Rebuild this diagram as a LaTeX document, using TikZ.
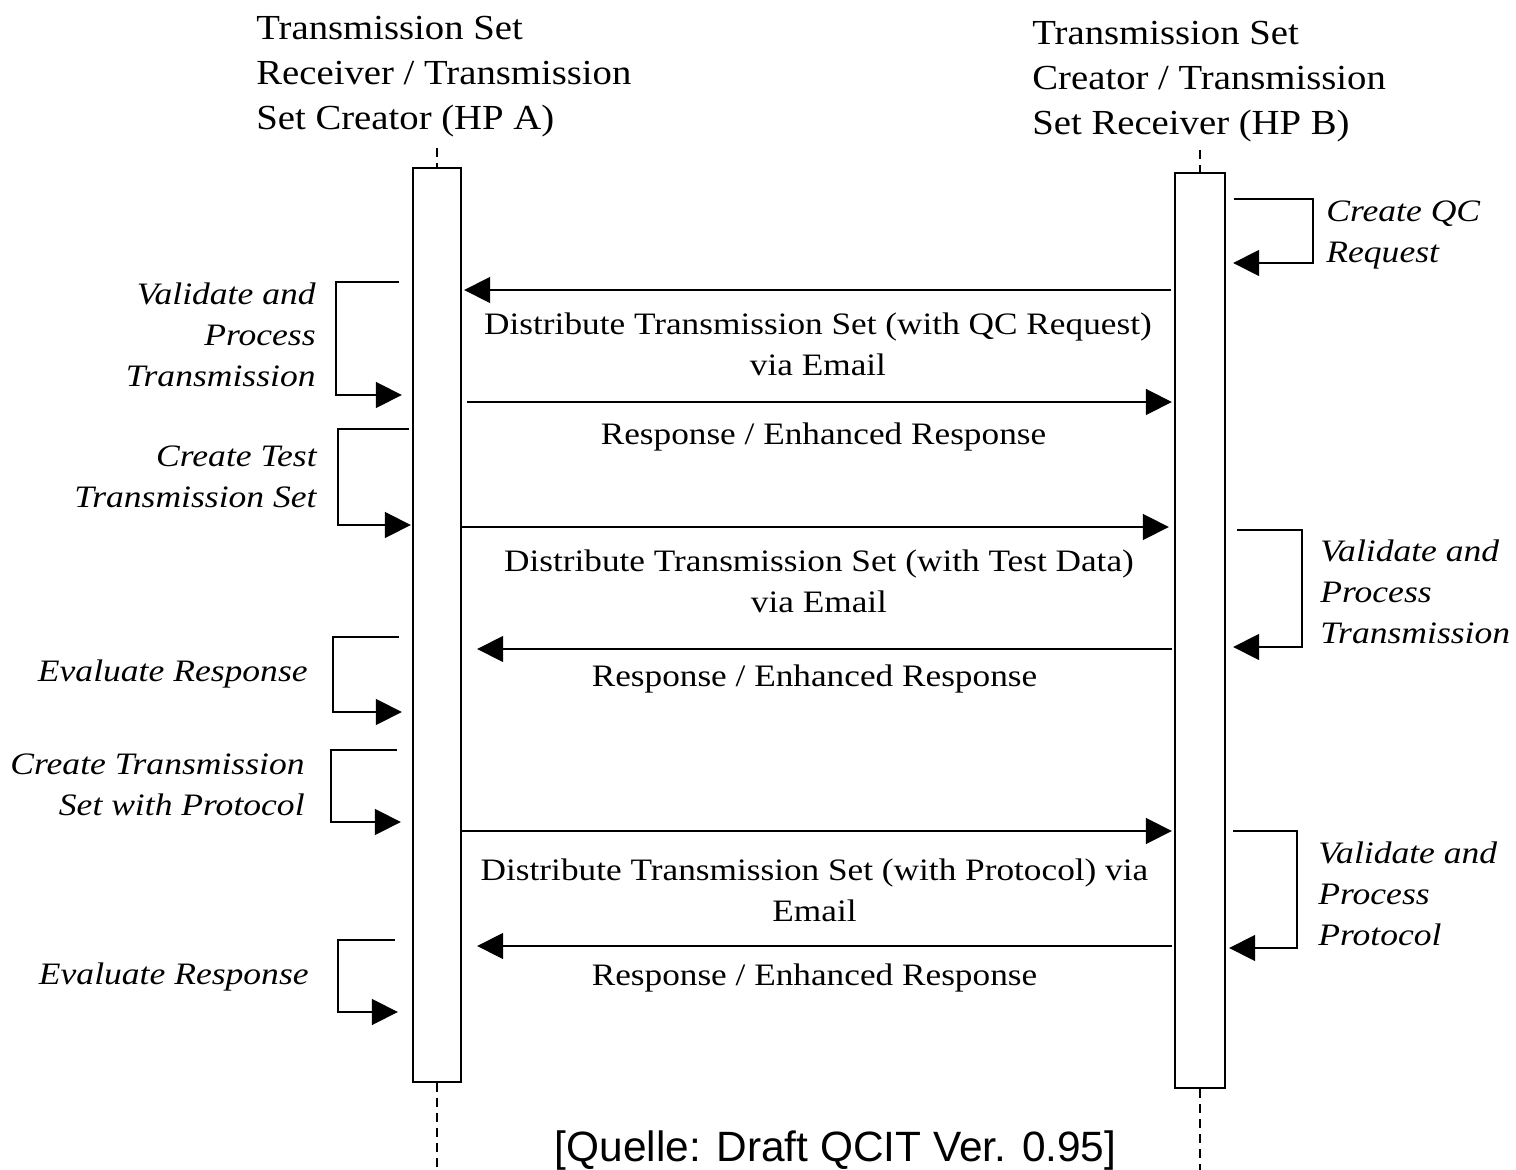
\documentclass[tikz,border=0pt]{standalone}
\usepackage{fontspec}
\setmainfont{Liberation Serif}
\newfontfamily\hdrfont[FakeStretch=1.1]{Liberation Serif}
\newfontfamily\msgfont[FakeStretch=1.13]{Liberation Serif}
\newfontfamily\actfont[FakeStretch=1.14]{Liberation Serif}
\newfontfamily\capfont{Liberation Sans}
\usetikzlibrary{arrows.meta}
\begin{document}
\begin{tikzpicture}[x=0.5pt,y=-0.5pt,
  lifebox/.style={draw, line width=1.2pt, fill=white, inner sep=0pt, minimum width=24pt},
  life/.style={line width=1.1pt, dash pattern=on 4.5pt off 3pt},
  msg/.style={line width=0.9pt, -{Triangle[length=13pt,width=13pt]}},
  loopar/.style={line width=0.9pt, -{Triangle[length=13pt,width=13pt]}},
  lbl/.style={font=\msgfont\fontsize{15.6}{20.5}\selectfont, align=center, inner sep=0pt},
  hdr/.style={font=\hdrfont\fontsize{17.6}{22.5}\selectfont, align=left, inner sep=0pt},
  actl/.style={font=\actfont\fontsize{15.6}{20.5}\selectfont\itshape, align=right, inner sep=0pt, anchor=east},
  actr/.style={font=\actfont\fontsize{15.6}{20.5}\selectfont\itshape, align=left, inner sep=0pt, anchor=west},
  captext/.style={font=\capfont\fontsize{21.2}{25}\selectfont, inner sep=0pt}
]
\useasboundingbox (0,0) rectangle (1516,1170);
% headers
\node[hdr, anchor=west] (hA) at (256,77) {Transmission Set\\Receiver / Transmission\\Set Creator (HP A)};
\node[hdr, anchor=west] (hB) at (1032,81.5) {Transmission Set\\Creator / Transmission\\Set Receiver (HP B)};
% lifelines
\coordinate (Atop) at (437,148);
\coordinate (Abot) at (437,1170);
\coordinate (Btop) at (1200,150);
\coordinate (Bbot) at (1200,1170);
\node[lifebox, minimum height=457pt] (A) at (437,625) {};
\node[lifebox, minimum height=457.5pt, minimum width=25pt] (B) at (1200,630.5) {};
\draw[life] (Atop) -- (A.north);
\draw[life] (A.south) -- (Abot);
\draw[life] (Btop) -- (B.north);
\draw[life] (B.south) -- (Bbot);
% messages
\draw[msg] ([xshift=-1.5pt]B.west |- 0,290) -- ([xshift=1pt]A.east |- 0,290);
\draw[msg] ([xshift=2.5pt]A.east |- 0,402) -- ([xshift=-1pt]B.west |- 0,402);
\draw[msg] (A.east |- 0,527) -- ([xshift=-2.5pt]B.west |- 0,527);
\draw[msg] ([xshift=-1pt]B.west |- 0,649) -- ([xshift=7.5pt]A.east |- 0,649);
\draw[msg] (A.east |- 0,831) -- ([xshift=-1pt]B.west |- 0,831);
\draw[msg] ([xshift=-1pt]B.west |- 0,946) -- ([xshift=7.5pt]A.east |- 0,946);
\node[lbl] (m1) at (818,344) {Distribute Transmission Set (with QC Request)\\via Email};
\node[lbl] (m2) at (823.5,437) {Response / Enhanced Response};
\node[lbl] (m3) at (819,581) {Distribute Transmission Set (with Test Data)\\via Email};
\node[lbl] (m4) at (814.5,679) {Response / Enhanced Response};
\node[lbl] (m5) at (814.5,890) {Distribute Transmission Set (with Protocol) via\\Email};
\node[lbl] (m6) at (814.5,978) {Response / Enhanced Response};
% left activities
\draw[loopar] ([xshift=-6.5pt]A.west |- 0,282) -| (336,395) -- ([xshift=-5pt]A.west |- 0,395);
\draw[loopar] ([xshift=-1.5pt]A.west |- 0,429) -| (338,525) -- ([xshift=-0.5pt]A.west |- 0,525);
\draw[loopar] ([xshift=-6.5pt]A.west |- 0,637) -| (333,712) -- ([xshift=-5pt]A.west |- 0,712);
\draw[loopar] ([xshift=-7.5pt]A.west |- 0,750) -| (331,822) -- ([xshift=-5.5pt]A.west |- 0,822);
\draw[loopar] ([xshift=-8.5pt]A.west |- 0,940) -| (338,1012) -- ([xshift=-7pt]A.west |- 0,1012);
\node[actl] (la) at (316,334.5) {Validate and\\Process\\Transmission};
\node[actl] (lb) at (317,477) {Create Test\\Transmission Set};
\node[actl] (lc) at (308,674) {Evaluate Response};
\node[actl] (ld) at (305,784.5) {Create Transmission\\Set with Protocol};
\node[actl] (le) at (309,977) {Evaluate Response};
% right activities
\draw[loopar] ([xshift=4pt]B.east |- 0,199) -| (1313,263) -- ([xshift=3.5pt]B.east |- 0,263);
\draw[loopar] ([xshift=5.5pt]B.east |- 0,530) -| (1302,647) -- ([xshift=3.5pt]B.east |- 0,647);
\draw[loopar] ([xshift=3.5pt]B.east |- 0,831) -| (1297,948) -- ([xshift=1.5pt]B.east |- 0,948);
\node[actr] (ra) at (1326,235) {Create QC\\Request};
\node[actr] (rb) at (1320,591.5) {Validate and\\Process\\Transmission};
\node[actr] (rc) at (1318,894) {Validate and\\Process\\Protocol};
% caption
\node[captext] (captxt) at (835.5,1151) {[Quelle: Draft QCIT Ver. 0.95]};
\end{tikzpicture}
\end{document}
